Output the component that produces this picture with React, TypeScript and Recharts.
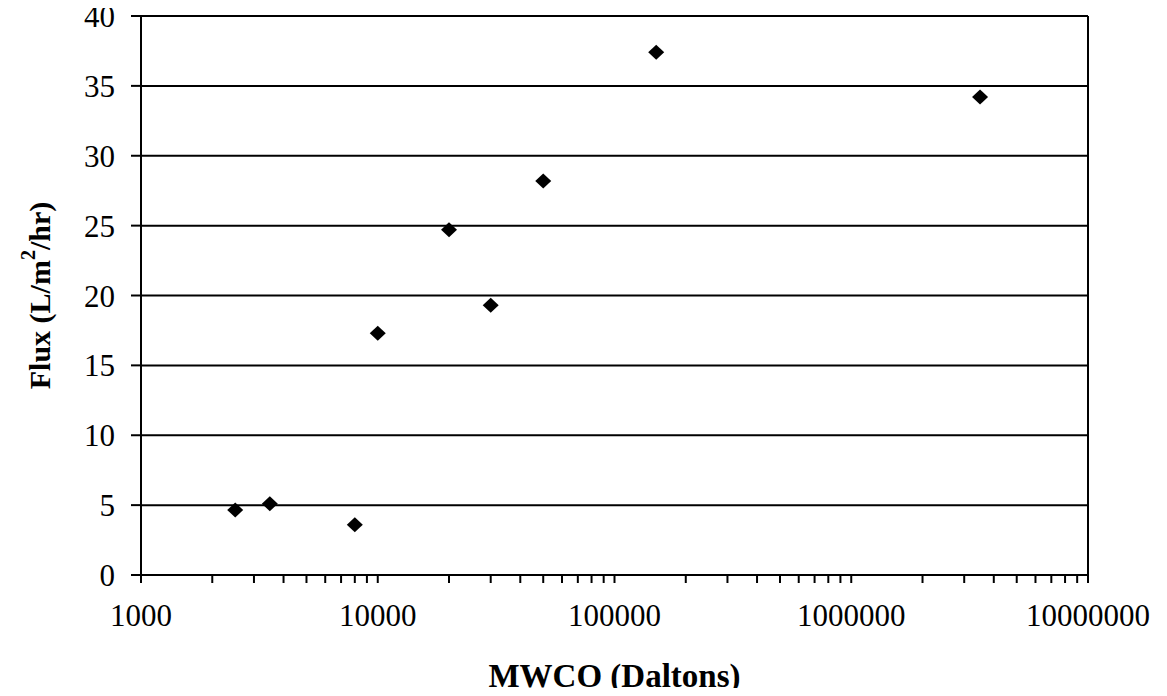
import React from "react"
import {
  ScatterChart,
  Scatter,
  XAxis,
  YAxis,
  CartesianGrid,
  ReferenceLine,
  Label,
} from "recharts"

// membrane cut-off (Daltons) and measured flux
const mwco = [2500, 3500, 8000, 10000, 20000, 30000, 50000, 150000, 3500000]
const flux = [4.65, 5.1, 3.6, 17.3, 24.7, 19.3, 28.2, 37.4, 34.2]

const decadeTicks = [1000, 10000, 100000, 1000000, 10000000]
const yTicks = [0, 5, 10, 15, 20, 25, 30, 35, 40]

const points = mwco.map((x, i) => ({ x, y: flux[i] }))

// log minor ticks 1..9 in every decade
const minorTicks: number[] = []
decadeTicks.slice(0, -1).forEach((d) => {
  for (let k = 1; k < 10; k++) minorTicks.push(d * k)
})
minorTicks.push(decadeTicks[decadeTicks.length - 1])

const FONT = "'Liberation Serif', 'Times New Roman', serif"

const Diamond = (props: any) => {
  const { cx, cy } = props
  if (cx == null || cy == null) return null
  return (
    <path
      d={`M${cx},${cy - 7.5} L${cx + 8},${cy} L${cx},${cy + 7.5} L${cx - 8},${cy} Z`}
      fill="#000"
    />
  )
}

const YTitle = (props: any) => {
  const vb = props.viewBox || {}
  const cx = 39
  const cy = vb.y + vb.height / 2
  return (
    <text
      x={cx}
      y={cy}
      transform={`rotate(-90, ${cx}, ${cy})`}
      textAnchor="middle"
      dominantBaseline="central"
      fontFamily={FONT}
      fontWeight="bold"
      fontSize={30}
      fill="#000"
    >
      Flux (L/m
      <tspan dy={-11} fontSize={20}>2</tspan>
      <tspan dy={11}>/hr)</tspan>
    </text>
  )
}

export default function App() {
  return (
    <div style={{ width: 1167, height: 696, margin: -8, background: "#fff" }}>
      <ScatterChart
        width={1167}
        height={696}
        margin={{ top: 16, right: 79, left: 41, bottom: 61 }}
      >
        <CartesianGrid vertical={false} stroke="#000" strokeWidth={2} />
        <XAxis
          type="number"
          dataKey="x"
          scale="log"
          domain={[1000, 10000000]}
          ticks={minorTicks}
          interval={0}
          allowDataOverflow
          height={60}
          stroke="#000"
          strokeWidth={2}
          tickSize={8}
          tickMargin={21}
          tickFormatter={(v: number) => (decadeTicks.includes(v) ? String(v) : "")}
          tick={{ fill: "#000", fontSize: 31, fontFamily: FONT }}
        >
          <Label
            value="MWCO (Daltons)"
            position="bottom"
            offset={29}
            style={{ fontFamily: FONT, fontWeight: "bold", fontSize: 33, fill: "#000" }}
          />
        </XAxis>
        <YAxis
          type="number"
          dataKey="y"
          domain={[0, 40]}
          ticks={yTicks}
          interval={0}
          width={100}
          stroke="#000"
          strokeWidth={2}
          tickSize={10}
          tickMargin={16}
          tick={{ fill: "#000", fontSize: 31, fontFamily: FONT }}
        >
          <Label content={<YTitle />} />
        </YAxis>
        <ReferenceLine x={10000000} stroke="#000" strokeWidth={2} />
        <Scatter data={points} shape={<Diamond />} isAnimationActive={false} />
      </ScatterChart>
    </div>
  )
}
